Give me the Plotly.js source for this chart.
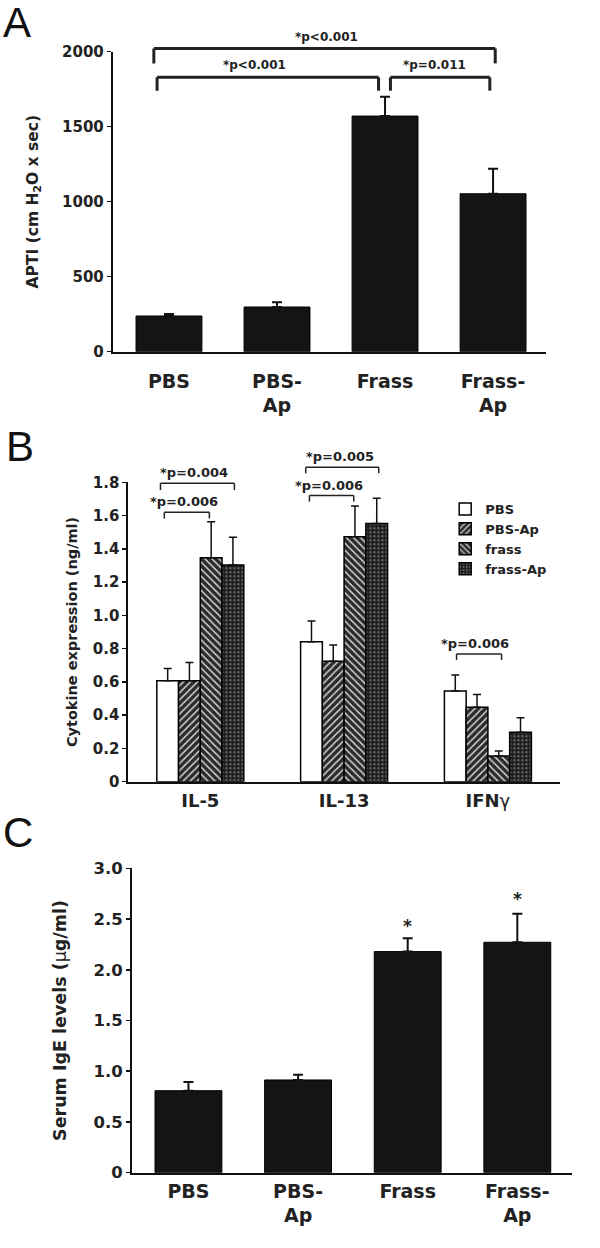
<!DOCTYPE html>
<html>
<head>
<meta charset="utf-8">
<script src="https://cdn.plot.ly/plotly-3.0.1.min.js"></script>
<style>
  body { margin: 0; background: #fff; }
  #chart { width: 600px; height: 1248px; }
</style>
</head>
<body>
<div id="chart"></div>
<script>
// panel A - APTI
var groupsA = ['PBS', 'PBS-<br>Ap', 'Frass', 'Frass-<br>Ap'];
var apti = [238, 298, 1571, 1053];
var aptiErr = [13, 31, 129, 167];

// panel B - cytokines
var cytokines = ['IL-5', 'IL-13', 'IFNγ'];
var cytoLabels = ['IL-5', 'IL-13', 'IFN<span style="font-weight:normal">γ</span>'];
var seriesB = ['PBS', 'PBS-Ap', 'frass', 'frass-Ap'];
var cytoVals = [
  [0.607, 0.842, 0.545],
  [0.607, 0.724, 0.447],
  [1.347, 1.473, 0.154],
  [1.303, 1.553, 0.297]
];
var cytoErr = [
  [0.074, 0.124, 0.096],
  [0.109, 0.098, 0.078],
  [0.216, 0.185, 0.030],
  [0.166, 0.151, 0.088]
];
var ticksB = [0, 0.2, 0.4, 0.6, 0.8, 1.0, 1.2, 1.4, 1.6, 1.8];
var tickTextB = ['0', '0.2', '0.4', '0.6', '0.8', '1.0', '1.2', '1.4', '1.6', '1.8'];

// panel C - serum IgE
var groupsC = ['PBS', 'PBS-<br>Ap', 'Frass', 'Frass-<br>Ap'];
var ige = [0.808, 0.914, 2.179, 2.271];
var igeErr = [0.086, 0.052, 0.131, 0.282];
var ticksC = [0, 0.5, 1.0, 1.5, 2.0, 2.5, 3.0];
var tickTextC = ['0', '0.5', '1.0', '1.5', '2.0', '2.5', '3.0'];

// significance brackets: [x0, x1, top, leg, label, labelX, labelY]
var bracketsA = [
  [-0.14, 3.02, 2022, 1922, '*p<0.001', 1.46, 2100],
  [-0.11, 1.94, 1829, 1740, '*p<0.001', 0.79, 1911],
  [2.05, 2.97, 1829, 1740, '*p=0.011', 2.46, 1911]
];
var bracketsB = [
  [-0.25, 0.063, 1.62, 1.583, '*p=0.006', -0.116, 1.684],
  [-0.277, 0.237, 1.794, 1.754, '*p=0.004', -0.044, 1.858],
  [0.759, 1.067, 1.72, 1.684, '*p=0.006', 0.893, 1.778],
  [0.733, 1.241, 1.89, 1.854, '*p=0.005', 0.973, 1.958],
  [1.782, 2.095, 0.768, 0.732, '*p=0.006', 1.913, 0.828]
];
var starsC = [[2, 2.43], [3, 2.70]];

var FONT = 'DejaVu Sans, Arial, sans-serif';
var H = 1248;
function px(p) { return 1 - p / H; }

var domA = { x: [0.188, 0.91], y: [px(351.7), px(51.7)], r: [0, 2000] };
var domB = { x: [0.214, 0.933], y: [px(781.7), px(482.3)], r: [0, 1.8] };
var domC = { x: [0.22, 0.953], y: [px(1172.7), px(868.3)], r: [0, 3.0] };

function yPaper(d, v) {
  return d.y[0] + (v - d.r[0]) / (d.r[1] - d.r[0]) * (d.y[1] - d.y[0]);
}

var upErr = function (arr, w, t) {
  return { type: 'data', symmetric: false, array: arr, arrayminus: arr.map(function () { return 0; }),
           color: '#111', thickness: t, width: w };
};

var data = [];

data.push({
  type: 'bar', x: groupsA, y: apti, xaxis: 'x', yaxis: 'y', width: 0.61,
  marker: { color: '#141414', line: { color: '#000', width: 1 } },
  error_y: upErr(aptiErr, 5, 2), showlegend: false, hoverinfo: 'skip'
});

var patterns = [
  { shape: '', bgcolor: '#fff', fgcolor: '#fff' },
  { shape: '/', bgcolor: '#2b2b2b', fgcolor: '#d0d0d0', size: 5, solidity: 0.3 },
  { shape: '\\', bgcolor: '#2b2b2b', fgcolor: '#d0d0d0', size: 5, solidity: 0.3 },
  { shape: '.', bgcolor: '#1c1c1c', fgcolor: '#707070', size: 4, solidity: 0.25 }
];
for (var i = 0; i < seriesB.length; i++) {
  data.push({
    type: 'bar', name: seriesB[i], x: cytokines, y: cytoVals[i], xaxis: 'x2', yaxis: 'y2',
    marker: { color: patterns[i].bgcolor, line: { color: '#000', width: 1.5 }, pattern: patterns[i] },
    error_y: upErr(cytoErr[i], 4, 1.5), hoverinfo: 'skip'
  });
}

data.push({
  type: 'bar', x: groupsC, y: ige, xaxis: 'x3', yaxis: 'y3', width: 0.61,
  marker: { color: '#141414', line: { color: '#000', width: 1 } },
  error_y: upErr(igeErr, 5, 2), showlegend: false, hoverinfo: 'skip'
});

var shapes = [];
var annotations = [];

function addBrackets(list, dom, xref, width, fsize) {
  list.forEach(function (b) {
    var top = yPaper(dom, b[2]), leg = yPaper(dom, b[3]);
    var line = { color: '#222', width: width };
    shapes.push({ type: 'line', xref: xref, yref: 'paper', x0: b[0], x1: b[1], y0: top, y1: top, line: line });
    shapes.push({ type: 'line', xref: xref, yref: 'paper', x0: b[0], x1: b[0], y0: top, y1: leg, line: line });
    shapes.push({ type: 'line', xref: xref, yref: 'paper', x0: b[1], x1: b[1], y0: top, y1: leg, line: line });
    annotations.push({ xref: xref, yref: 'paper', x: b[5], y: yPaper(dom, b[6]), text: b[4], showarrow: false,
      xanchor: 'center', yanchor: 'middle',
      font: { family: FONT, size: fsize, color: '#222', weight: 'bold' } });
  });
}
addBrackets(bracketsA, domA, 'x', 3, 12);
addBrackets(bracketsB, domB, 'x2', 1.5, 13);
starsC.forEach(function (s) {
  annotations.push({ xref: 'x3', yref: 'paper', x: s[0], y: yPaper(domC, s[1]), text: '*', showarrow: false,
    xanchor: 'center', yanchor: 'middle',
    font: { family: FONT, size: 17, color: '#222', weight: 'bold' } });
});

[['A', 17, 22], ['B', 20, 447], ['C', 18, 832]].forEach(function (p) {
  annotations.push({ xref: 'paper', yref: 'paper', x: p[1] / 600, y: px(p[2]), text: p[0], showarrow: false,
    xanchor: 'center', yanchor: 'middle', font: { family: 'Liberation Sans, Arial, sans-serif', size: 42, color: '#111' } });
});

function yAx(dom, anchor, title, tsize, fsize, standoff, tickvals, ticktext) {
  var ax = {
    domain: dom.y, anchor: anchor, range: dom.r,
    showgrid: false, zeroline: false, showline: true, linecolor: '#111', linewidth: 2,
    ticks: 'outside', ticklen: 4, tickwidth: 1.5, tickcolor: '#111',
    tickfont: { family: FONT, size: fsize, color: '#222', weight: 'bold' },
    title: { text: title, standoff: standoff, font: { family: FONT, size: tsize, color: '#222', weight: 'bold' } },
    fixedrange: true
  };
  if (tickvals) { ax.tickvals = tickvals; ax.ticktext = ticktext; } else { ax.dtick = 500; }
  return ax;
}
function xAx(dom, anchor, range, fsize, standoff, ticktext, tickvals) {
  var ax = {
    domain: dom.x, anchor: anchor, range: range, type: 'category',
    showgrid: false, zeroline: false, showline: true, linecolor: '#111', linewidth: 2,
    ticks: '', ticklabelstandoff: standoff,
    tickfont: { family: FONT, size: fsize, color: '#222', weight: 'bold' },
    fixedrange: true
  };
  if (ticktext) { ax.ticktext = ticktext; ax.tickvals = tickvals; }
  return ax;
}

var layout = {
  width: 600, height: 1248,
  margin: { l: 0, r: 0, t: 0, b: 0 },
  paper_bgcolor: '#fff', plot_bgcolor: '#fff',
  barmode: 'group', bargap: 0.395, bargroupgap: 0,
  xaxis: xAx(domA, 'y', [-0.52, 3.49], 19, 11),
  yaxis: yAx(domA, 'x', 'APTI (cm H<sub>2</sub>O x sec)', 15.5, 15, 20),
  xaxis2: xAx(domB, 'y2', [-0.5, 2.5], 18, 2, cytoLabels, cytokines),
  yaxis2: yAx(domB, 'x2', 'Cytokine expression (ng/ml)', 14.5, 15, 12, ticksB, tickTextB),
  xaxis3: xAx(domC, 'y3', [-0.515, 3.497], 19, 0),
  yaxis3: yAx(domC, 'x3', 'Serum IgE levels (<span style="font-weight:normal">μ</span>g/ml)', 17.5, 16.5, 22, ticksC, tickTextC),
  legend: {
    x: 0.742, y: px(494), xanchor: 'left', yanchor: 'top',
    font: { family: FONT, size: 13, color: '#222', weight: 'bold' },
    bgcolor: 'rgba(0,0,0,0)'
  },
  shapes: shapes,
  annotations: annotations,
  showlegend: true
};

Plotly.newPlot('chart', data, layout, { staticPlot: true });
</script>
</body>
</html>
